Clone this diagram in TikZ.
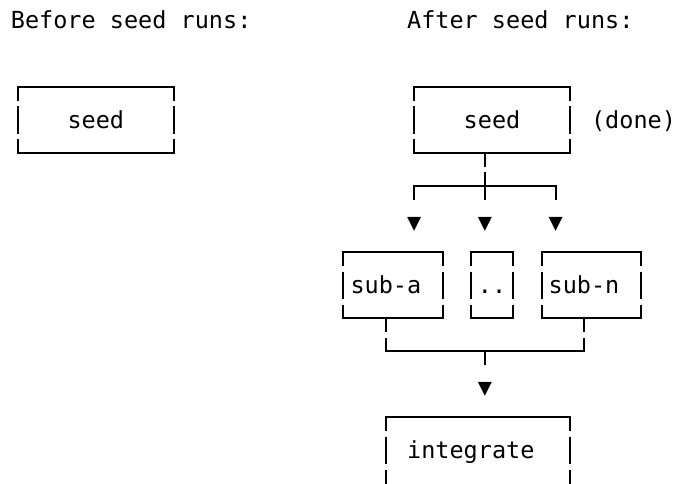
\documentclass[tikz,border=0pt]{standalone}
\usepackage{fontspec}
\newfontfamily\mono{DejaVu Sans Mono}
\newcommand\asciibox[1]{%
  \draw[hwire] (#1.north west) -- (#1.north east);
  \draw[hwire] (#1.south west) -- (#1.south east);
  \draw[vwire] (#1.north west) -- (#1.south west);
  \draw[vwire] (#1.north east) -- (#1.south east);}
\begin{document}
\begin{tikzpicture}[x=1pt,y=-1pt,
  every node/.style={font=\mono\fontsize{23.5}{28}\selectfont, inner sep=0pt, outer sep=0pt},
  boxshape/.style={minimum height=66.08pt, text height=20pt, text depth=4pt},
  hwire/.style={line width=2pt, line cap=rect},
  vwire/.style={line width=2pt, dash pattern=on 13.8pt off 5.44pt on 27.6pt off 5.44pt},
  wire/.style={line width=2pt},
  tri/.style={anchor=base},
  lbl/.style={anchor=base west}]
\useasboundingbox (0,0) rectangle (675,484);

% headings
\node[lbl] (before) at (10.9,28.8) {Before seed runs:};
\node[lbl] (after) at (407.1,28.8) {After seed runs:};

% boxes
\node[boxshape, minimum width=155.65pt] (seedA) at (95.83,120.12) {seed};
\asciibox{seedA}
\node[boxshape, minimum width=155.65pt] (seedB) at (492.03,120.12) {seed};
\asciibox{seedB}
\node[lbl] (done) at (591.08,128.1) {(done)};

\node[boxshape, minimum width=99.05pt] (subA) at (392.98,285.32) {sub-a\phantom{x}};
\asciibox{subA}
\node[boxshape, minimum width=42.45pt] (dots) at (492.03,285.32) {..};
\asciibox{dots}
\node[boxshape, minimum width=99.05pt] (subN) at (591.08,285.32) {sub-n\phantom{x}};
\asciibox{subN}

\node[boxshape, minimum width=183.95pt] (integ) at (477.88,450.52) {integrate\phantom{x}};
\draw[hwire] (integ.north west) -- (integ.north east);
\draw[vwire] (integ.north west) -- (integ.south west);
\draw[vwire] (integ.north east) -- (integ.south east);

% fan-out
\coordinate (stemE) at (484.95,200.0);
\coordinate (brL) at (414.2,186.2);
\coordinate (brR) at (555.7,186.2);
\coordinate (brLe) at (414.2,200.0);
\coordinate (brRe) at (555.7,200.0);
\draw[vwire] (seedB.south -| stemE) -- (stemE);
\draw[wire] (brLe) -- (brL) -- (brR) -- (brRe);
\node[tri] (t1) at (414.2,230.2) {▼};
\node[tri] (t2) at (484.95,230.2) {▼};
\node[tri] (t3) at (555.7,230.2) {▼};

% fan-in
\coordinate (j1) at (385.9,351.4);
\coordinate (j2) at (584.0,351.4);
\coordinate (jm) at (484.95,351.4);
\coordinate (je) at (484.95,365.2);
\draw[vwire] (subA.south -| j1) -- (j1);
\draw[vwire] (subN.south -| j2) -- (j2);
\draw[hwire] (j1) -- (j2);
\draw[wire] (jm) -- (je);
\node[tri] (t4) at (484.95,395.4) {▼};
\end{tikzpicture}
\end{document}
